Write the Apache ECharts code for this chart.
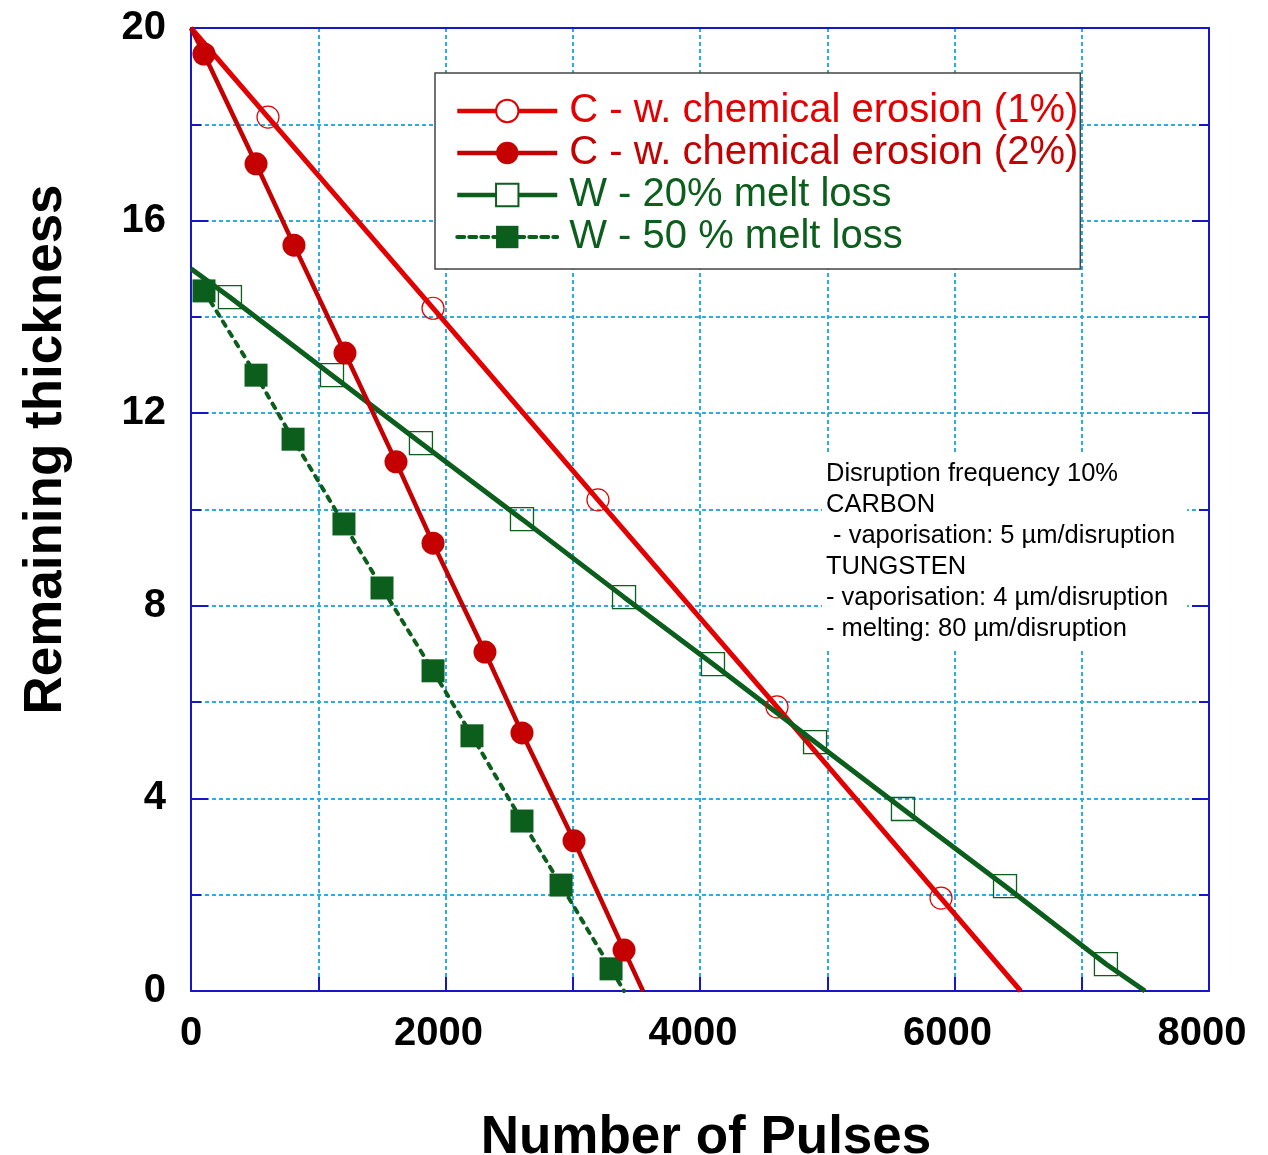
<!DOCTYPE html>
<html>
<head>
<meta charset="utf-8">
<script src="https://cdn.jsdelivr.net/npm/echarts@6/dist/echarts.min.js"></script>
<style>
  html, body { margin: 0; padding: 0; background: #fff; }
  #chart { width: 1268px; height: 1155px; }
</style>
</head>
<body>
<div id="chart"></div>
<script>
// Series names (legend order)
const seriesNames = [
  'C - w. chemical erosion (1%)',
  'C - w. chemical erosion (2%)',
  'W - 20% melt loss',
  'W - 50 % melt loss'
];

// Carbon, 1% chemical erosion: marked points [pulses, remaining thickness]
const c1Points = [[605, 18.15], [1902, 14.18], [3198, 10.20], [4605, 5.90], [5894, 1.93]];
const c1Start = [0, 20];
const c1End = [6520, 0];

// Carbon, 2% chemical erosion
const c2Points = [[102, 19.46], [511, 17.18], [809, 15.49], [1210, 13.25], [1611, 10.99],
                  [1902, 9.30], [2310, 7.04], [2601, 5.36], [3010, 3.12], [3403, 0.85]];
const c2Start = [0, 20];
const c2End = [3552, 0];

// Tungsten, 20% melt loss
const w20Points = [[306, 14.41], [1108, 12.79], [1807, 11.38], [2601, 9.80], [3403, 8.18],
                   [4102, 6.79], [4904, 5.17], [5595, 3.78], [6397, 2.18], [7190, 0.56]];
const w20Start = [0, 15];
const w20End = [7497, 0];

// Tungsten, 50% melt loss
const w50Points = [[102, 14.54], [511, 12.79], [802, 11.46], [1202, 9.70], [1501, 8.37],
                   [1902, 6.65], [2208, 5.30], [2601, 3.53], [2908, 2.20], [3301, 0.46]];
const w50Start = null;
const w50End = [3403, 0];

// Axis ranges and ticks
const xMin = 0, xMax = 8000, xStep = 2000;
const yMin = 0, yMax = 20, yStep = 4;

const annotationLines = [
  'Disruption frequency 10%',
  'CARBON',
  ' - vaporisation: 5 \u00b5m/disruption',
  'TUNGSTEN',
  '- vaporisation: 4 \u00b5m/disruption',
  '- melting: 80 \u00b5m/disruption'
];

const RED1 = '#e30000';
const RED2 = '#c40000';
const GREEN = '#0c5e1d';
const AXIS_BLUE = '#1616c8';
const GRID_CYAN = '#2aace6';
const FONT = '"Liberation Sans", Arial, Helvetica, sans-serif';

// Line runs from start through the marked points to the end; endpoints carry no marker
function lineData(start, points, end) {
  const d = [];
  if (start) d.push({ value: start, symbol: 'none' });
  points.forEach(p => d.push({ value: p }));
  if (end) d.push({ value: end, symbol: 'none' });
  return d;
}

const series = [
  {
    name: seriesNames[0], type: 'line', z: 3,
    data: lineData(c1Start, c1Points, c1End),
    symbol: 'circle', symbolSize: 22,
    itemStyle: { color: 'rgba(255,255,255,0)', borderColor: RED1, borderWidth: 1.2 },
    lineStyle: { color: RED1, width: 5 }
  },
  {
    name: seriesNames[1], type: 'line', z: 4,
    data: lineData(c2Start, c2Points, c2End),
    symbol: 'circle', symbolSize: 23,
    itemStyle: { color: RED2, borderWidth: 0 },
    lineStyle: { color: RED2, width: 4.5 }
  },
  {
    name: seriesNames[2], type: 'line', z: 3,
    data: lineData(w20Start, w20Points, w20End),
    symbol: 'rect', symbolSize: 23,
    itemStyle: { color: 'rgba(255,255,255,0)', borderColor: GREEN, borderWidth: 1.3 },
    lineStyle: { color: GREEN, width: 5 }
  },
  {
    name: seriesNames[3], type: 'line', z: 3,
    data: lineData(w50Start, w50Points, w50End),
    symbol: 'rect', symbolSize: 23,
    itemStyle: { color: GREEN, borderWidth: 0 },
    lineStyle: { color: GREEN, width: 4, type: [5, 7], cap: 'round' }
  }
].map(s => Object.assign(s, {
  showSymbol: true, animation: false, silent: true,
  emphasis: { disabled: true }
}));

const splitStyle = { color: GRID_CYAN, width: 2, type: [4, 3] };
const axisLineStyle = { color: AXIS_BLUE, width: 2 };
const tickFont = { fontFamily: FONT, fontSize: 40, fontWeight: 'bold', color: '#000' };

const chart = echarts.init(document.getElementById('chart'), null, { renderer: 'canvas' });
chart.setOption({
  backgroundColor: '#fff',
  animation: false,
  grid: { left: 191, right: 59, top: 28, bottom: 164, containLabel: false, outerBoundsMode: 'none' },
  legend: {
    orient: 'vertical',
    left: 435, top: 73,
    padding: [18, 2, 12, 20],
    backgroundColor: '#fff',
    borderColor: '#444',
    borderWidth: 1.5,
    borderRadius: 0,
    itemWidth: 100,
    itemHeight: 28,
    itemGap: 2,
    selectedMode: false,
    lineStyle: { width: 4.5 },
    textStyle: { fontFamily: FONT, fontSize: 40, lineHeight: 40, padding: [0, 0, 0, 7] },
    data: [
      { name: seriesNames[0], itemStyle: { color: '#fff' }, textStyle: { color: RED1 } },
      { name: seriesNames[1], textStyle: { color: RED2 } },
      { name: seriesNames[2], itemStyle: { color: '#fff' }, textStyle: { color: GREEN } },
      { name: seriesNames[3], lineStyle: { width: 4, type: [7, 5] }, textStyle: { color: GREEN } }
    ],
    z: 10
  },
  xAxis: [
    {
      type: 'value', position: 'bottom',
      min: xMin, max: xMax, interval: xStep,
      name: 'Number of Pulses', nameLocation: 'middle', nameGap: 121,
      nameTextStyle: { fontFamily: FONT, fontSize: 53, fontWeight: 'bold', color: '#000', padding: [0, 0, 0, 12] },
      axisLine: { show: true, onZero: false, lineStyle: axisLineStyle },
      axisTick: { show: true, inside: true, length: 14, lineStyle: axisLineStyle },
      minorTick: { show: true, splitNumber: 2, length: 14, lineStyle: axisLineStyle },
      axisLabel: Object.assign({
        margin: 23,
        formatter: v => (v === 0 ? '{z|0}' : '{n|' + v + '}'),
        rich: {
          z: Object.assign({}, tickFont),
          n: Object.assign({ padding: [0, 14, 0, 0] }, tickFont)
        }
      }, tickFont),
      splitLine: { show: true, lineStyle: splitStyle },
      minorSplitLine: { show: true, lineStyle: splitStyle }
    },
    {
      type: 'value', position: 'top',
      min: xMin, max: xMax, interval: xStep,
      axisLine: { show: true, onZero: false, lineStyle: axisLineStyle },
      axisTick: { show: false }, axisLabel: { show: false }, splitLine: { show: false }
    }
  ],
  yAxis: [
    {
      type: 'value', position: 'left',
      min: yMin, max: yMax, interval: yStep,
      name: 'Remaining thickness', nameLocation: 'middle', nameGap: 118,
      nameTextStyle: { fontFamily: FONT, fontSize: 53, fontWeight: 'bold', color: '#000', padding: [0, 0, 0, 120] },
      axisLine: { show: true, onZero: false, lineStyle: axisLineStyle },
      axisTick: { show: true, inside: true, length: 17, lineStyle: axisLineStyle },
      minorTick: { show: true, splitNumber: 2, length: 10, lineStyle: axisLineStyle },
      axisLabel: Object.assign({ margin: 25, formatter: v => String(v) }, tickFont),
      splitLine: { show: true, lineStyle: splitStyle },
      minorSplitLine: { show: true, lineStyle: splitStyle }
    },
    {
      type: 'value', position: 'right',
      min: yMin, max: yMax, interval: yStep,
      axisLine: { show: true, onZero: false, lineStyle: axisLineStyle },
      axisTick: { show: true, inside: true, length: 17, lineStyle: axisLineStyle },
      minorTick: { show: true, splitNumber: 2, length: 10, lineStyle: axisLineStyle },
      axisLabel: { show: false }, splitLine: { show: false }
    }
  ],
  graphic: [
    {
      type: 'text', left: 822, top: 452, z: 5, silent: true,
      style: {
        text: annotationLines.join('\n'),
        font: '25.5px ' + FONT,
        fill: '#000',
        lineHeight: 31,
        backgroundColor: '#fff',
        padding: [6, 12, 6, 4]
      }
    }
  ],
  series: series
});
</script>
</body>
</html>
